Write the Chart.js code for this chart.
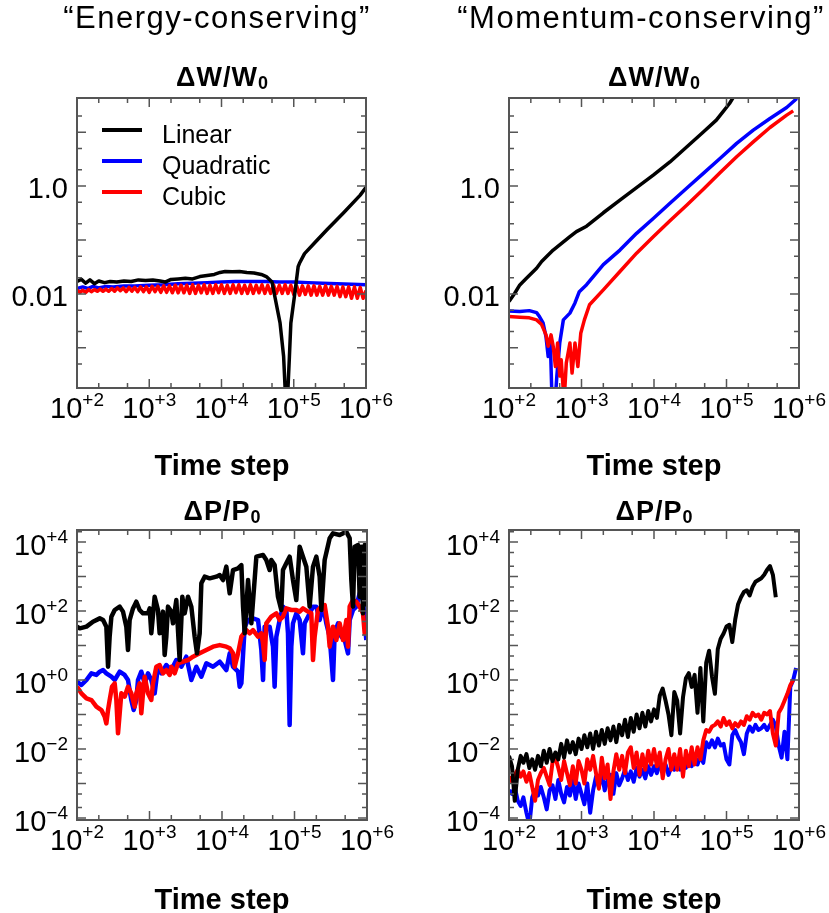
<!DOCTYPE html>
<html><head><meta charset="utf-8">
<script src="https://cdn.jsdelivr.net/npm/chart.js@4/dist/chart.umd.min.js"></script>
<style>
html,body{margin:0;padding:0;background:#fff;}
#wrap{position:relative;width:829px;height:913px;overflow:hidden;font-family:"Liberation Sans",Arial,Helvetica,sans-serif;color:#000;}
canvas{position:absolute;}
.t{position:absolute;white-space:nowrap;text-align:center;line-height:1;}
.col{font-size:31px;letter-spacing:1.5px;top:2px;}
.pt{font-size:27px;font-weight:bold;letter-spacing:1px;}
.xt{font-size:29px;font-weight:bold;}
sub{font-size:18px;vertical-align:baseline;position:relative;top:3px;letter-spacing:0;}
</style></head><body><div id="wrap">
<canvas id="cTL" width="430" height="480" style="left:0;top:0"></canvas>
<canvas id="cTR" width="399" height="480" style="left:430px;top:0"></canvas>
<canvas id="cBL" width="430" height="433" style="left:0;top:480px"></canvas>
<canvas id="cBR" width="399" height="433" style="left:430px;top:480px"></canvas>
<div class="t col" style="left:17px;width:400px;">“Energy-conserving”</div>
<div class="t col" style="left:441px;width:400px;">“Momentum-conserving”</div>
<div class="t pt" style="left:122px;width:200px;top:64px">ΔW/W<sub>0</sub></div>
<div class="t pt" style="left:554px;width:200px;top:64px">ΔW/W<sub>0</sub></div>
<div class="t pt" style="left:122px;width:200px;top:498px">ΔP/P<sub>0</sub></div>
<div class="t pt" style="left:554px;width:200px;top:498px">ΔP/P<sub>0</sub></div>
<div class="t xt" style="left:122px;width:200px;top:451px">Time step</div>
<div class="t xt" style="left:554px;width:200px;top:451px">Time step</div>
<div class="t xt" style="left:122px;width:200px;top:885px">Time step</div>
<div class="t xt" style="left:554px;width:200px;top:885px">Time step</div>
</div>
<script>
// ---------- series labels & colours ----------
const seriesLabels = ['Linear', 'Quadratic', 'Cubic'];
const seriesColors = ['#000000', '#0000ff', '#ff0000'];

// ---------- ticks ----------
const xTickValues = [100,200,500,1000,2000,5000,10000,20000,50000,100000,200000,500000,1000000];
const xLabelValues = [100,1000,10000,100000,1000000];
const xLabelExponents = ['+2','+3','+4','+5','+6'];
const wTickValues = [0.0005,0.001,0.002,0.005,0.01,0.02,0.05,0.1,0.2,0.5,1,2,5,10,20];
const wLabelValues = [1, 0.01];
const wLabelTexts = ['1.0', '0.01'];
const pTickValues = [0.0001,0.0002,0.0005,0.001,0.002,0.005,0.01,0.02,0.05,0.1,0.2,0.5,1,2,5,10,20,50,100,200,500,1000,2000,5000,10000,20000];
const pLabelValues = [0.0001,0.01,1,100,10000];
const pLabelExponents = ['\u22124','\u22122','+0','+2','+4'];

// sampling grid of time steps (used by the densely sampled noisy series)
const gridSteps = [100,110,120,132,145,158,174,191,209,229,251,275,302,331,363,398,437,479,525,575,631,692,759,832,912,
  1000,1096,1202,1318,1445,1585,1738,1905,2089,2291,2512,2754,3020,3311,3631,3981,4365,4786,5248,5754,6310,6918,7586,8318,9120,
  10000,10960,12020,13180,14450,15850,17380,19050,20890,22910,25120,27540,30200,33110,36310,39810,43650,47860,52480,57540,63100,69180,75860,83180,91200,
  100000,109600,120200,131800,144500,158500,173800,190500,208900,229100,251200,275400,302000,331100,363100,398100,436500,478600,524800,575400,631000,691800,758600,831800,912000,1000000];

// ---------- Energy-conserving, dW/W0 ----------
const tlLinearSteps = [100,115,132,151,174,200,240,288,355,447,562,708,891,1120,1410,1660,2000,2510,3160,3980,5010,6310,7940,9550,11200,14100,17800,22400,28200,35500,41700,50100,53700,64600,72400,75900,79400,83200,87100,91200,102000,115000,120000,141000,195000,288000,490000,832000,1000000];
const tlLinearValues = [0.017,0.0186,0.0158,0.0182,0.0155,0.0174,0.0162,0.017,0.0166,0.0174,0.017,0.0182,0.0178,0.0182,0.0174,0.0166,0.0186,0.019,0.0195,0.019,0.021,0.022,0.023,0.025,0.026,0.0257,0.026,0.025,0.0245,0.023,0.021,0.0166,0.0102,0.0029,0.00069,0.00018,0.000001,0.00018,0.00069,0.0029,0.0089,0.032,0.037,0.056,0.089,0.155,0.32,0.68,0.95];
const tlQuadSteps = [100,120,141,166,200,251,316,447,631,1000,1580,2510,3980,6310,10000,15800,25100,39800,63100,100000,158000,251000,398000,631000,1000000];
const tlQuadValues = [0.0126,0.0135,0.0126,0.0138,0.0129,0.0138,0.0135,0.0141,0.0141,0.0145,0.0148,0.0155,0.0158,0.0162,0.0166,0.017,0.017,0.017,0.0166,0.0166,0.0162,0.0158,0.0155,0.0151,0.0148];
const tlCubicValues = [0.0117,0.0107,0.0117,0.0107,0.012,0.011,0.012,0.0112,0.0123,0.0112,
  0.0123,0.0112,0.0126,0.0112,0.0129,0.0115,0.0129,0.011,0.0132,0.0112,
  0.0132,0.011,0.0135,0.011,0.0135,0.0107,0.0138,0.011,0.0138,0.0107,
  0.0141,0.0107,0.0141,0.0105,0.0145,0.0105,0.0145,0.0105,0.0145,0.0102,
  0.0148,0.0102,0.0145,0.0105,0.0148,0.0102,0.0145,0.0102,0.0148,0.0105,
  0.0148,0.0102,0.0145,0.0102,0.0148,0.0105,0.0148,0.0102,0.0145,0.0102,
  0.0148,0.0102,0.0145,0.0105,0.0148,0.0102,0.0145,0.0102,0.0148,0.0102,
  0.0145,0.0102,0.0148,0.0102,0.0145,0.0098,0.0141,0.0095,0.0141,0.0098,
  0.0141,0.0095,0.0141,0.0095,0.0138,0.0095,0.0141,0.0095,0.0138,0.0095,
  0.0138,0.0089,0.0135,0.0089,0.0135,0.0083,0.0135,0.0083,0.0132,0.0083,
  0.0115];

// ---------- Momentum-conserving, dW/W0 ----------
const trLinearSteps = [100,120,141,174,240,282,407,692,851,1175,2000,3390,5750,9770,16600,28200,47900,72400,89100,110000,129000];
const trLinearValues = [0.0072,0.0103,0.0147,0.0195,0.030,0.040,0.065,0.115,0.143,0.18,0.32,0.55,0.94,1.6,2.8,5.3,10.1,16.7,23.8,34,48];
const trQuadSteps = [100,141,191,240,263,295,324,347,372,389,407,457,501,562,692,813,933,1175,2000,3390,5750,9770,16600,28200,47900,81300,138000,234000,398000,676000,933000];
const trQuadValues = [0.0048,0.0047,0.0049,0.0045,0.0038,0.0029,0.0016,0.00069,0.00123,0.00016,0.00003,0.0003,0.00123,0.0033,0.0044,0.0068,0.011,0.0148,0.035,0.065,0.133,0.25,0.48,0.91,1.72,3.25,6.2,10.9,17.9,28.6,42];
const trCubicSteps = [100,141,191,240,282,324,347,380,407,437,468,501,525,575,617,692,741,813,891,977,1096,1290,2000,3390,5750,9770,16600,28200,47900,81300,138000,234000,398000,676000,832000];
const trCubicValues = [0.0038,0.0037,0.0036,0.0033,0.0027,0.00174,0.00107,0.00174,0.00107,0.00045,0.00123,0.0003,0.0006,0.0001,0.00052,0.00123,0.00034,0.00123,0.00045,0.00186,0.0033,0.0063,0.0119,0.026,0.057,0.115,0.228,0.44,0.87,1.77,3.5,6.6,12.2,20.7,24.8];

// ---------- Energy-conserving, dP/P0 ----------
const blLinearSteps = [100,109,135,166,206,229,254,268,282,298,331,388,431,479,505,532,592,658,731,813,953,1005,1059,1178,1309,1380,1535,1618,1706,1799,2000,2109,2344,2606,2838,3055,3396,3776,4198,4519,4920,5188,5768,6761,8356,9290,10330,11480,12770,14190,16640,18500,19500,20560,22860,25410,29790,36830,40840,45400,47860,53210,59150,65760,69330,77080,85700,95270,105900,117800,130900,145600,161800,179900,200000,222300,234400,260600,305500,339600,419800,518800,576800,608100,641200,676100,751600,792500,835600,881000,928900,979500];
const blLinearValues = [35.2,31.4,35.2,49.1,61.2,54.8,35.2,2.43,18.0,68.5,107,134,96,35.2,7.41,54.8,119,186,107,85.5,85.5,119,22.5,260,107,22.5,96,5.31,18.0,134,96,43.9,208,3.80,260,85.5,260,134,18.0,5.93,22.5,634,990,885,990,1100,790,1930,325,1540,1730,2150,134,22.5,790,43.9,3760,4200,3010,1540,3010,2150,260,107,1540,2410,3760,790,208,7330,3760,1930,134,1930,3760,990,107,3010,12800,17800,16000,19900,12800,790,134,7330,8200,260,7330,85.5,8200,134];
const blQuadSteps = [100,115,135,158,185,206,229,254,298,331,388,454,505,561,605,658,694,771,858,953,1059,1178,1309,1457,1706,2000,2344,2748,3221,3776,4426,5188,6081,7516,9290,11480,12770,14190,16640,17530,18500,20560,22860,26780,31400,34900,36830,38770,45400,50500,53210,56140,62400,69330,77080,81300,85700,90400,95270,105900,117800,130900,138000,153500,179900,200000,222300,247200,274800,305500,339600,358100,398100,442600,492000,547000,576800,641200,712800,792500,881000,928900,979500];
const blQuadValues = [0.895,0.716,1.0,1.56,1.40,1.74,1.95,1.56,1.25,1.0,1.74,1.40,1.0,0.263,0.135,0.263,1.0,1.74,0.80,1.56,1.0,0.41,2.43,1.56,2.72,1.95,3.80,2.43,4.75,1.0,2.43,1.25,3.04,2.43,3.40,1.95,5.93,2.43,1.74,0.64,0.80,35.2,54.8,61.2,54.8,7.41,1.0,35.2,35.2,9.25,0.64,18.0,54.8,134,107,22.5,0.0497,9.25,43.9,85.5,54.8,5.93,43.9,68.5,134,134,54.8,149,43.9,18.0,1.0,22.5,43.9,18.0,14.4,5.93,54.8,107,134,325,208,43.9,14.4];
const blCubicSteps = [100,115,135,158,185,217,241,254,268,282,304,331,349,368,388,409,454,505,561,624,658,731,771,813,858,953,1059,1117,1242,1380,1535,1706,1897,2000,2224,2472,2898,3396,3981,4920,6081,7516,9290,11480,12770,14190,14960,16640,18500,21670,24090,26780,31400,34900,36830,38770,40840,47860,56140,62400,69330,77080,90400,105900,117800,130900,153500,170600,179900,189700,210900,234400,260600,289700,305500,339600,377600,419800,466900,518800,547000,576800,641200,712800,792500,881000,928900,979500];
const blCubicValues = [0.64,0.41,0.294,0.263,0.169,0.135,0.0865,0.0554,0.135,0.263,0.64,0.80,0.263,0.0284,0.108,0.41,0.329,0.64,0.41,0.169,0.41,0.80,0.108,0.41,1.25,0.41,0.263,0.80,2.43,2.72,1.56,1.95,1.40,2.43,1.56,3.04,3.40,3.80,4.75,5.93,7.41,9.25,10.3,9.25,8.3,5.93,2.43,5.93,18.0,28.1,22.5,28.1,18.0,22.5,11.6,3.80,43.9,68.5,85.5,54.8,68.5,119,107,107,96,119,96,85.5,3.80,18.0,107,134,149,35.2,9.25,35.2,14.4,43.9,14.4,54.8,9.25,134,208,186,134,85.5,22.5,35.2];

// ---------- Momentum-conserving, dP/P0 (sampled on gridSteps) ----------
const brLinearValues = [0.00631,0.00316,0.000316,0.00251,0.00631,0.00398,0.00708,0.00282,0.00501,0.00251,
  0.00631,0.00316,0.00891,0.00398,0.01,0.00447,0.00794,0.00501,0.0141,0.00562,
  0.0178,0.00794,0.0158,0.00708,0.02,0.01,0.0251,0.0112,0.0282,0.01,
  0.0316,0.0126,0.0355,0.0141,0.0398,0.0178,0.0447,0.0158,0.0501,0.0251,
  0.0708,0.0224,0.0794,0.0316,0.1,0.0398,0.112,0.0447,0.126,0.0631,
  0.141,0.0794,0.355,0.562,0.251,0.1,0.0251,0.447,0.251,0.0282,
  0.316,1.12,1.58,0.631,1.41,0.112,2.24,0.0631,3.16,7.08,
  1.26,0.398,7.94,15.8,22.4,35.5,39.8,12.6,56.2,158,
  251,355,398,282,501,708,794,891,1120,1580,
  2000,1120,251];
const brQuadValues = [6.31e-4,5.01e-4,7.94e-4,3.16e-4,2.24e-4,3.98e-4,1.41e-4,6.31e-5,3.98e-4,6.31e-4,
  4.47e-4,7.94e-4,3.98e-4,1.78e-4,6.31e-4,8.91e-4,3.55e-4,1.26e-3,5.01e-4,2.82e-4,
  7.94e-4,4.47e-4,1.26e-3,3.55e-4,1e-3,5.01e-4,2.51e-4,1e-3,1.41e-4,6.31e-4,
  1.58e-3,7.94e-4,2.0e-3,6.31e-4,1.26e-3,1.78e-3,5.01e-4,2.0e-3,8.91e-4,1.41e-3,
  2.51e-3,1.26e-3,2.24e-3,1.12e-3,2.82e-3,1.58e-3,2.51e-3,1.41e-3,3.16e-3,1.78e-3,
  3.16e-3,2.0e-3,3.55e-3,2.24e-3,3.55e-3,1.78e-3,3.16e-3,2.51e-3,4.47e-3,2.51e-3,
  5.01e-3,2.82e-3,5.01e-3,3.16e-3,6.31e-3,3.55e-3,6.31e-3,3.98e-3,1.58e-2,1.12e-2,
  1.78e-2,1.12e-2,2.0e-2,1.26e-2,1.41e-2,5.01e-3,3.55e-3,2.51e-2,3.55e-2,2.24e-2,
  1.58e-2,7.08e-3,2.82e-2,4.47e-2,3.16e-2,5.01e-2,3.55e-2,3.98e-2,5.01e-2,3.55e-2,
  5.01e-2,7.08e-2,4.47e-2,1.26e-2,5.62e-3,3.16e-2,5.01e-3,0.631,1.0,2.24];
const brCubicValues = [1.58e-3,1.12e-3,1.78e-3,2.51e-3,1.58e-3,2.24e-3,1.12e-3,2.0e-3,7.94e-4,3.16e-4,
  1.26e-3,2.0e-3,2.82e-3,1.58e-3,8.91e-4,3.98e-3,5.62e-3,2.82e-3,1.26e-3,4.47e-3,
  2.0e-3,8.91e-4,3.16e-3,1e-3,4.47e-3,2.51e-3,1e-3,5.01e-3,2.51e-3,6.31e-3,
  2.0e-3,7.08e-4,5.62e-3,1.41e-3,3.55e-3,3.55e-4,2.24e-3,7.08e-3,2.51e-3,6.31e-3,
  2.0e-3,7.94e-3,1.12e-2,2.82e-3,7.94e-3,1.78e-3,7.08e-3,2.51e-3,8.91e-3,3.55e-3,
  1e-2,3.16e-3,7.94e-3,1.41e-3,5.01e-3,1e-2,2.51e-3,7.08e-3,2.51e-3,1e-2,
  1.58e-3,8.91e-3,3.16e-3,1.12e-2,3.55e-3,1.12e-2,5.01e-3,1.78e-2,3.55e-2,3.16e-2,
  4.47e-2,5.01e-2,6.31e-2,4.47e-2,7.94e-2,5.01e-2,6.31e-2,3.98e-2,5.62e-2,4.47e-2,
  6.31e-2,5.01e-2,8.91e-2,7.08e-2,0.112,8.91e-2,0.1,7.08e-2,0.112,0.1,
  0.126,2.82e-2,1.26e-2,0.112,0.158,0.251,0.398,0.708,1.0];

// ---------- drawing ----------
const FONT = '"Liberation Sans", Arial, Helvetica, sans-serif';
const pts = (steps, vals) => vals.map((v, i) => ({x: steps[i], y: v}));

function drawPower(ctx, exp, x, baseline, align) {
  ctx.font = '29px ' + FONT;
  const w1 = ctx.measureText('10').width;
  ctx.font = '19px ' + FONT;
  const w2 = ctx.measureText(exp).width;
  const total = w1 + w2;
  const x0 = align === 'center' ? x - total / 2 : x - total;
  ctx.textAlign = 'left'; ctx.textBaseline = 'alphabetic';
  ctx.font = '29px ' + FONT; ctx.fillText('10', x0, baseline);
  ctx.font = '19px ' + FONT; ctx.fillText(exp, x0 + w1, baseline - 12);
}

const framePlugin = {
  id: 'frame',
  afterDraw(chart, args, o) {
    const ctx = chart.ctx, a = chart.chartArea, xs = chart.scales.x, ys = chart.scales.y;
    ctx.save();
    ctx.strokeStyle = '#555'; ctx.lineWidth = 1.5;
    ctx.beginPath();
    xTickValues.forEach(v => {
      const px = xs.getPixelForValue(v);
      const L = xLabelValues.includes(v) ? 9 : 5;
      ctx.moveTo(px, a.bottom); ctx.lineTo(px, a.bottom - L);
      ctx.moveTo(px, a.top); ctx.lineTo(px, a.top + L);
    });
    o.yTicks.forEach(v => {
      const py = ys.getPixelForValue(v);
      if (py < a.top || py > a.bottom) return;
      const L = o.yMajor.includes(v) ? 9 : 5;
      ctx.moveTo(a.left, py); ctx.lineTo(a.left + L, py);
      ctx.moveTo(a.right, py); ctx.lineTo(a.right - L, py);
    });
    ctx.stroke();
    ctx.lineWidth = 2;
    ctx.strokeRect(a.left, a.top, a.right - a.left, a.bottom - a.top);

    ctx.fillStyle = '#000';
    xLabelValues.forEach((v, i) => drawPower(ctx, xLabelExponents[i], xs.getPixelForValue(v), a.bottom + 30, 'center'));
    o.yLabelValues.forEach((v, i) => {
      const py = ys.getPixelForValue(v);
      if (o.power) {
        drawPower(ctx, o.yLabelTexts[i], a.left - 9, py + 13, 'right');
      } else {
        ctx.font = '29px ' + FONT; ctx.textAlign = 'right'; ctx.textBaseline = 'alphabetic';
        ctx.fillText(o.yLabelTexts[i], a.left - 9, py + 12);
      }
    });

    if (o.legend) {
      chart.data.datasets.forEach((d, i) => {
        const y = a.top + 32 + i * 31;
        ctx.strokeStyle = d.borderColor; ctx.lineWidth = 4;
        ctx.beginPath(); ctx.moveTo(a.left + 25, y); ctx.lineTo(a.left + 65, y); ctx.stroke();
        ctx.fillStyle = '#000'; ctx.font = '25px ' + FONT; ctx.textAlign = 'left'; ctx.textBaseline = 'alphabetic';
        ctx.fillText(d.label, a.left + 85, y + 13);
      });
    }
    ctx.restore();
  }
};

function makeChart(id, pad, yMin, yMax, stepsList, valuesList, width, frameOpts) {
  const orders = [0, 2, 1];
  return new Chart(document.getElementById(id), {
    type: 'line',
    data: {
      datasets: seriesLabels.map((label, i) => ({
        label, data: pts(stepsList[i], valuesList[i]),
        borderColor: seriesColors[i], backgroundColor: seriesColors[i],
        borderWidth: width, pointRadius: 0, tension: 0, fill: false,
        clip: 0, order: orders[i], borderJoinStyle: 'round'
      }))
    },
    options: {
      responsive: false, animation: false, events: [],
      layout: { padding: pad },
      plugins: { legend: { display: false }, tooltip: { enabled: false }, frame: frameOpts },
      scales: {
        x: { type: 'logarithmic', min: 100, max: 1000000, display: false },
        y: { type: 'logarithmic', min: yMin, max: yMax, display: false }
      }
    },
    plugins: [framePlugin]
  });
}

const wFrame = (legend) => ({ yTicks: wTickValues, yMajor: [0.001,0.01,0.1,1,10], yLabelValues: wLabelValues, yLabelTexts: wLabelTexts, power: false, legend });
const pFrame = { yTicks: pTickValues, yMajor: [0.0001,0.001,0.01,0.1,1,10,100,1000,10000], yLabelValues: pLabelValues, yLabelTexts: pLabelExponents, power: true, legend: false };

makeChart('cTL', {left: 77, top: 98, right: 64, bottom: 92}, 0.00018, 43,
  [tlLinearSteps, tlQuadSteps, gridSteps], [tlLinearValues, tlQuadValues, tlCubicValues], 3.5, wFrame(true));
makeChart('cTR', {left: 79, top: 98, right: 30, bottom: 92}, 0.00018, 43,
  [trLinearSteps, trQuadSteps, trCubicSteps], [trLinearValues, trQuadValues, trCubicValues], 3.5, wFrame(false));
makeChart('cBL', {left: 77, top: 50, right: 63, bottom: 93}, 0.0000875, 22300,
  [blLinearSteps, blQuadSteps, blCubicSteps], [blLinearValues, blQuadValues, blCubicValues], 4.5, pFrame);
makeChart('cBR', {left: 79, top: 50, right: 30, bottom: 93}, 0.0000875, 22300,
  [gridSteps, gridSteps, gridSteps], [brLinearValues, brQuadValues, brCubicValues], 4, pFrame);
</script>
</body></html>
